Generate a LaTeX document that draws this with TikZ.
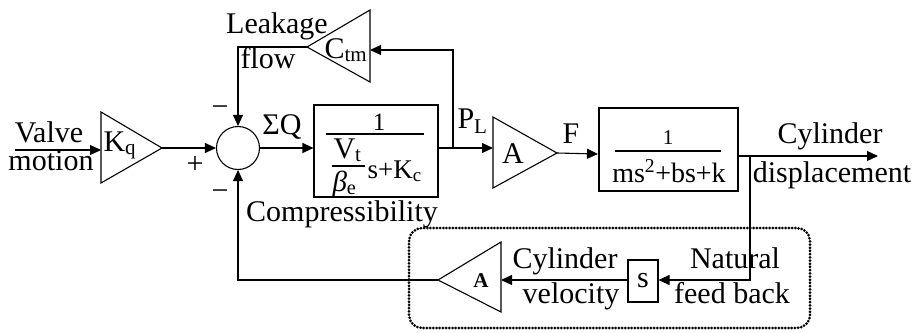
\documentclass[tikz,border=0pt]{standalone}
\usepackage{amsmath}
\usepackage{fontspec}
\setmainfont{Liberation Serif}
\usetikzlibrary{arrows.meta}
\begin{document}
\begin{tikzpicture}[x=1pt,y=-1pt,
  line width=1.1pt,
  lbl/.style={font=\fontsize{30}{34}\selectfont, inner sep=0pt, anchor=base},
  arr/.style={-{Triangle[length=11pt,width=10pt]}},
  blk/.style={draw, rectangle, inner sep=0pt},
  frame/.style={line width=3pt, line cap=round, dash pattern=on 0pt off 3.2pt, rounded corners=13pt}
]
\useasboundingbox (0,0) rectangle (918,332);

% ---- Kq gain
\coordinate (kqT) at (101,112);
\coordinate (kqB) at (101,183);
\coordinate (kqA) at (162,148);
\coordinate (kqIn) at (101,150);
\draw (kqT) -- (kqA) -- (kqB) -- cycle;
\node[lbl, anchor=base west] (kqtxt) at (103,151) {$\text{K}_\text{q}$};

% ---- input
\coordinate (vin) at (15,150);
\draw[arr] (vin) -- (kqIn);
\node[lbl] (valve) at (49,142) {Valve};
\node[lbl] (motion) at (51,170) {motion};

% ---- summing junction
\node[draw, circle, minimum size=43pt, inner sep=0pt] (sum) at (238,148) {};
\draw[arr] (kqA) -- (sum.west);
\node[lbl] (plus) at (195,173) {+};
\node[lbl] (mtop) at (220,116) {−};
\node[lbl] (mbot) at (220,200) {−};
\node[lbl] (sq) at (282,134) {ΣQ};

% ---- box 1
\node[blk, minimum width=124pt, minimum height=92pt] (b1) at (376,151) {};
\node[inner sep=0pt, anchor=base, font=\fontsize{25}{28}\selectfont] (b1num) at (379,130) {1};
\draw (326,134) -- (424,134);
\node[inner sep=0pt, anchor=base west, font=\fontsize{30}{34}\selectfont] (b1v) at (333,158) {$\text{V}_\text{t}$};
\draw (332,166) -- (365,166);
\node[inner sep=0pt, anchor=base west, font=\fontsize{29}{33}\selectfont] (b1b) at (332,191) {\textit{β}\textsubscript{e}};
\node[inner sep=0pt, anchor=base west, font=\fontsize{27}{30}\selectfont] (b1s) at (367,178) {$\text{s+K}_\text{c}$};
\node[lbl] (compr) at (342,221) {Compressibility};
\draw[arr] (sum.east) -- (b1.west |- sum.east);

% ---- P_L junction and leakage
\coordinate (pl) at (453,148);
\coordinate (plTop) at (453,50);
\coordinate (ctmA) at (307,47);
\coordinate (ctmT) at (370,10);
\coordinate (ctmB) at (370,82);
\coordinate (ctmIn) at (370,50);
\coordinate (lkC) at (238,47);
\draw (ctmT) -- (ctmA) -- (ctmB) -- cycle;
\node[lbl, anchor=base west] (ctmtxt) at (324,58) {$\text{C}_\text{tm}$};
\draw[arr] (pl) -- (plTop) -- (ctmIn);
\draw[arr] (ctmA) -- (lkC) -- (sum.north);
\node[lbl] (leak) at (277,33) {Leakage};
\node[lbl] (flow) at (268,68) {flow};
\node[lbl, anchor=base west] (pltxt) at (457,128) {$\text{P}_\text{L}$};

% ---- A gain
\coordinate (aT) at (493,117);
\coordinate (aB) at (493,188);
\coordinate (aA) at (557,153);
\coordinate (aIn) at (493,148);
\draw (aT) -- (aA) -- (aB) -- cycle;
\node[lbl] (atxt) at (513,163) {A};
\draw[arr] (b1.east |- pl) -- (aIn);
\node[lbl] (ftxt) at (571,143) {F};

% ---- box 2
\node[blk, minimum width=139pt, minimum height=83pt] (b2) at (668.5,149.5) {};
\node[inner sep=0pt, anchor=base, font=\fontsize{21}{24}\selectfont] (b2num) at (668,144) {1};
\draw (615,151) -- (721,151);
\node[inner sep=0pt, anchor=base, font=\fontsize{28}{31}\selectfont] (b2den) at (669,182) {ms\textsuperscript{2}+bs+k};
\coordinate (b2in) at (598,154);
\draw[arr] (aA) -- (b2in);

% ---- output
\coordinate (out) at (878,156);
\coordinate (nfb) at (750,156);
\draw[arr] (b2.east |- out) -- (out);
\node[lbl] (cyl1) at (830,143) {Cylinder};
\node[lbl] (disp) at (832,182) {displacement};

% ---- natural feedback
\node[draw, minimum width=30pt, minimum height=42pt, inner sep=0pt, font=\fontsize{30}{34}\selectfont] (sb) at (643,281) {s};
\coordinate (nfbB) at (750,280);
\draw[arr] (nfb) -- (nfbB) -- (sb.east |- nfbB);
\node[lbl] (nat) at (735,268) {Natural};
\node[lbl] (fb) at (732,303) {feed back};

\coordinate (a2T) at (501,242);
\coordinate (a2B) at (501,312);
\coordinate (a2A) at (438,280);
\draw (a2T) -- (a2A) -- (a2B) -- cycle;
\node[inner sep=0pt, anchor=base, font=\fontsize{21}{24}\selectfont\bfseries] (a2txt) at (481,287) {A};
\draw[arr] (sb.west |- a2A) -- (a2T |- a2A);
\node[lbl] (cyl2) at (565,268) {Cylinder};
\node[lbl] (vel) at (571,303) {velocity};

\coordinate (fbC) at (238,280);
\draw[arr] (a2A) -- (fbC) -- (sum.south);

% ---- dotted frame
\draw[frame] (409,228) rectangle (810,328);
\end{tikzpicture}
\end{document}
